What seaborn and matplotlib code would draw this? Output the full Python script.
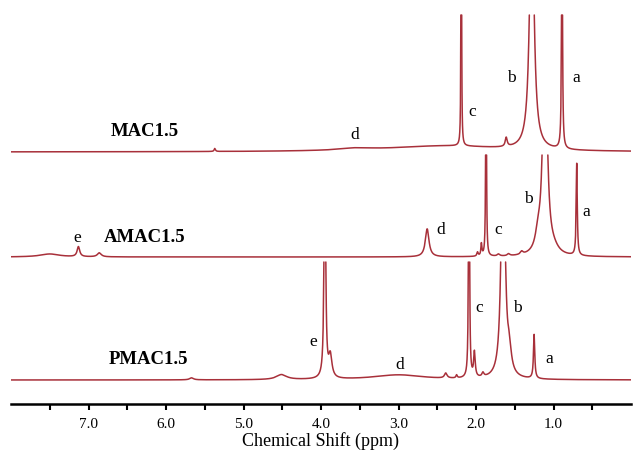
import numpy as np
import pandas as pd
import matplotlib
matplotlib.use("Agg")
import matplotlib.pyplot as plt
import seaborn as sns

# Peak tables for each spectrum: shift (ppm), height, Lorentzian half width (ppm)
mac_shift = [0.89, 1.28, 1.61, 2.19, 2.40, 3.55, 5.37]
mac_height = [300, 270, 9, 600, 6, 2, 3]
mac_width = [0.006, 0.032, 0.015, 0.003, 0.9, 0.25, 0.01]

amac_shift = [0.70, 1.00, 1.11, 1.20, 1.41, 1.58, 1.71, 1.87, 1.93, 1.98, 2.63, 6.86, 7.13, 7.50]
amac_height = [92, 5, 250, 15, 3, 2, 2, 400, 12, 4, 28, 4, 10, 3]
amac_width = [0.008, 0.08, 0.03, 0.04, 0.02, 0.02, 0.02, 0.004, 0.008, 0.01, 0.028, 0.03, 0.02, 0.15]

pmac_shift = [1.25, 1.57, 1.65, 1.91, 2.02, 2.09, 2.25, 2.39, 3.00, 3.88, 3.95, 4.51, 5.67]
pmac_height = [44, 20, 300, 4, 25, 500, 3, 5, 5, 22, 300, 5, 2]
pmac_width = [0.01, 0.03, 0.025, 0.015, 0.012, 0.005, 0.01, 0.02, 0.4, 0.025, 0.01, 0.08, 0.03]

samples = ["MAC1.5", "AMAC1.5", "PMAC1.5"]
offsets = [252, 147, 24]     # vertical stacking offset of each trace
ceilings = [137, 102, 118]   # height at which tall peaks are cut off

tick_values = [1.0, 2.0, 3.0, 4.0, 5.0, 6.0, 7.0]

ppm = np.arange(0.0, 8.0005, 0.0005)


def spectrum(shift, height, width):
    y = np.zeros_like(ppm)
    for c, h, w in zip(shift, height, width):
        y += h * w ** 2 / ((ppm - c) ** 2 + w ** 2)
    return y


def stacked_frame(name, y, offset, ceiling):
    over = y > ceiling
    yc = np.minimum(y, ceiling)
    prev_over = np.r_[False, over[:-1]]
    next_over = np.r_[over[1:], False]
    hidden = over & prev_over & next_over
    yc = np.where(hidden, np.nan, yc + offset)
    seg = np.cumsum(np.r_[0, np.diff(hidden.astype(int)) != 0])
    df = pd.DataFrame({"ppm": ppm, "signal": yc, "segment": seg, "sample": name})
    return df.dropna()


tables = [(mac_shift, mac_height, mac_width),
          (amac_shift, amac_height, amac_width),
          (pmac_shift, pmac_height, pmac_width)]

frames = []
for name, (s, h, w), off, ceil in zip(samples, tables, offsets, ceilings):
    frames.append(stacked_frame(name, spectrum(s, h, w), off, ceil))
data = pd.concat(frames, ignore_index=True)
data["trace"] = data["sample"] + "_" + data["segment"].astype(str)

sns.set_style("white")
plt.rcParams["font.family"] = ["Liberation Serif", "DejaVu Serif"]
plt.rcParams["text.color"] = "black"
plt.rcParams["axes.labelcolor"] = "black"
plt.rcParams["xtick.color"] = "black"

fig = plt.figure(figsize=(6.33, 4.51), dpi=100)
ax = fig.add_axes([11 / 633, 47 / 451, 620 / 633, 404 / 451])

sns.lineplot(data=data, x="ppm", y="signal", units="trace", estimator=None,
             sort=False, color="#a8303a", linewidth=1.1, ax=ax)

ax.set_xlim(8.0, 0.0)
ax.set_ylim(0, 404)

# sample names and peak assignments
name_pos = [(6.28, 272), (6.28, 166), (6.22, 44)]
for name, (x, y) in zip(samples, name_pos):
    ax.text(x, y, name, ha="center", va="center", fontsize=13.5,
            fontweight="bold", color="black")

peak_labels = [
    ("d", 3.56, 269), ("c", 2.05, 292), ("b", 1.54, 326), ("a", 0.71, 326),
    ("e", 7.14, 166), ("d", 2.45, 174), ("c", 1.72, 174), ("b", 1.33, 205), ("a", 0.58, 192),
    ("e", 4.10, 62), ("d", 2.98, 39), ("c", 1.96, 96), ("b", 1.47, 96), ("a", 1.05, 45),
]
for lab, x, y in peak_labels:
    ax.text(x, y, lab, ha="center", va="center", fontsize=12.5, color="black")

ticks = np.arange(0.5, 7.6, 0.5)
ax.set_xticks(ticks)
ax.set_xticklabels([f"{t:.1f}" if t in tick_values else "" for t in ticks])
ax.tick_params(axis="x", direction="out", length=4, width=1.5, pad=6,
               labelsize=11, bottom=True, color="black", labelcolor="black")
ax.set_yticks([])
ax.set_ylabel("")
ax.set_xlabel("Chemical Shift (ppm)", fontsize=13, labelpad=1, color="black")
for side in ["left", "right", "top"]:
    ax.spines[side].set_visible(False)
ax.spines["bottom"].set_linewidth(1.8)
ax.spines["bottom"].set_color("black")
ax.patch.set_alpha(0)

fig.savefig("out.png", dpi=100)
